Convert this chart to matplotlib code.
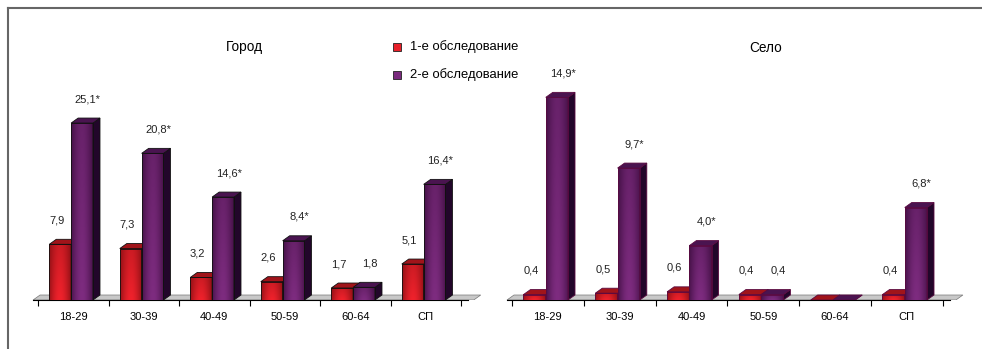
import numpy as np
import matplotlib.pyplot as plt
from matplotlib.patches import Polygon, Rectangle
from matplotlib.lines import Line2D

plt.rcParams['font.family'] = ['Liberation Sans', 'DejaVu Sans']

categories = ['18-29', '30-39', '40-49', '50-59', '60-64', 'СП']
series_names = ['1-е обследование', '2-е обследование']

city_first = [7.9, 7.3, 3.2, 2.6, 1.7, 5.1]
city_second = [25.1, 20.8, 14.6, 8.4, 1.8, 16.4]
city_star = [True, True, True, True, False, True]

village_first = [0.4, 0.5, 0.6, 0.4, 0.0, 0.4]
village_second = [14.9, 9.7, 4.0, 0.4, 0.0, 6.8]
village_star = [True, True, True, False, False, True]

W, H = 982, 349
fig = plt.figure(figsize=(W / 100, H / 100), dpi=100)

# colours: (dark edge, light centre, top, side)
RED = ('#7a0c10', '#f0222c', '#a0141a', '#3a0608')
PURPLE = ('#360a38', '#7e2c80', '#4a1450', '#22062a')


def shade(dark, light, nx=40, ny=30):
    d = np.array(plt.matplotlib.colors.to_rgb(dark))
    l = np.array(plt.matplotlib.colors.to_rgb(light))
    t = np.linspace(0, 1, nx)
    prof = np.sin(np.pi * (0.15 + 0.7 * t)) ** 1.5
    v = np.linspace(0, 1, ny)[:, None]
    k = prof[None, :] * (1 - 0.3 * v)
    return d + (l - d) * k[..., None]


def bar3d(ax, x0, w, h, dx, dy, cols, edge):
    dark, light, top, side = cols
    if h > 0:
        ax.imshow(shade(dark, light), extent=[x0, x0 + w, 0, h], origin='lower',
                  aspect='auto', zorder=3, interpolation='bilinear')
        ax.add_patch(Rectangle((x0, 0), w, h, fill=False, ec=edge, lw=0.6, zorder=4))
    ax.add_patch(Polygon([(x0 + w, 0), (x0 + w + dx, dy), (x0 + w + dx, h + dy), (x0 + w, h)],
                         fc=side, ec=edge, lw=0.6, zorder=3))
    ax.add_patch(Polygon([(x0, h), (x0 + dx, h + dy), (x0 + w + dx, h + dy), (x0 + w, h)],
                         fc=top, ec=edge, lw=0.6, zorder=3))


def panel(left_px, step_px, ppu, ymax, first, second, star, edge):
    x_lo, x_hi = -0.6, 5.9
    left = left_px + (x_lo + 0.5) * step_px
    width = (x_hi - x_lo) * step_px
    height = ymax * ppu
    ax = fig.add_axes([left / W, 49 / H, width / W, height / H])
    ax.set_xlim(x_lo, x_hi)
    ax.set_ylim(0, ymax)
    dx = 7 / step_px
    dy = 5 / ppu
    # floor
    ax.add_patch(Polygon([(-0.57, 0), (-0.57 + dx, dy), (5.78, dy), (5.78 - dx, 0)],
                         fc='#c8c8c8', ec='#777777', lw=0.5, zorder=1))
    ax.plot([-0.57, 5.6], [0, 0], color='black', lw=0.8, zorder=2, clip_on=False)
    w = 0.31
    for i, (a, b, s) in enumerate(zip(first, second, star)):
        x_red = i - 0.34
        x_pur = x_red + w
        bar3d(ax, x_red, w, a, dx, dy, RED, edge)
        bar3d(ax, x_pur, w, b, dx, dy, PURPLE, edge)
        for xv, v, st, shift in ((x_red, a, False, -0.05), (x_pur, b, s, 0.08)):
            if v == 0:
                continue
            lab = f'{v:.1f}'.replace('.', ',') + ('*' if st else '')
            ax.annotate(lab, (xv + w / 2 + shift, v + dy), xytext=(0, 10),
                        textcoords='offset points', ha='center', va='bottom',
                        fontsize=8, color='#222222')
    ax.set_xticks(range(len(categories)))
    ax.set_xticklabels(categories, fontsize=8)
    ax.set_xticks(np.arange(-0.5, 6, 1), minor=True)
    ax.tick_params(axis='x', which='major', length=0, pad=9)
    ax.tick_params(axis='x', which='minor', length=4, width=0.8, direction='out')
    ax.set_yticks([])
    for sp in ax.spines.values():
        sp.set_visible(False)
    ax.patch.set_alpha(0)
    return ax


panel(38, 70.5, 7.05, 40, city_first, city_second, city_star, '#111111')
panel(512, 71.8, 13.6, 20, village_first, village_second, village_star, '#5a0a40')

# titles
fig.text(244 / W, 1 - 47 / H, 'Город', ha='center', va='center', fontsize=9.8)
fig.text(766 / W, 1 - 48 / H, 'Село', ha='center', va='center', fontsize=9.8)

# legend
for k, (name, col) in enumerate(zip(series_names, ['#e8202a', '#7a2a7e'])):
    yc = 47 + k * 28
    fig.add_artist(Rectangle((393 / W, 1 - (yc + 4) / H), 8 / W, 8 / H,
                             transform=fig.transFigure, fc=col, ec='#222222', lw=0.6))
    fig.text(410 / W, 1 - yc / H, name, ha='left', va='center', fontsize=9.4)

# frame
fig.add_artist(Line2D([8 / W, 1], [1 - 8 / H, 1 - 8 / H], transform=fig.transFigure,
                      color='#666666', lw=1.5))
fig.add_artist(Line2D([8 / W, 8 / W], [0, 1 - 8 / H], transform=fig.transFigure,
                      color='#666666', lw=1.5))

fig.savefig('out.png', dpi=100)
